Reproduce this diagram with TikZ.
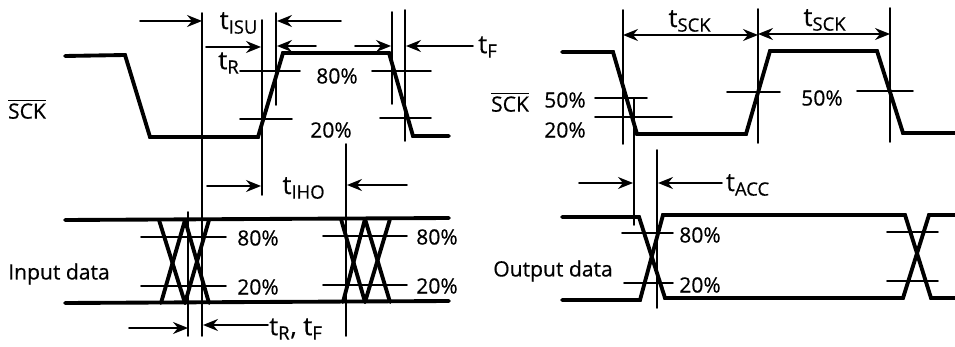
\documentclass[tikz,border=0pt]{standalone}
\usepackage{amsmath}
\usepackage{xcolor}
\usepackage{fontspec}
\setmainfont[FakeBold=0.5]{Open Sans}
\usepackage{tikz}
\usepackage{tkz-euclide}
\usetikzlibrary{arrows.meta}
\tikzset{wave/.style={line width=2.2pt,color=black,line join=miter},guide/.style={line width=1pt,color=black},
  level/.style={line width=1pt,color=black},
  toward/.style={line width=1pt,color=black,-{Stealth[length=3mm,width=2.4mm,inset=1mm]}},
  both way/.style={line width=1pt,color=black,{Stealth[length=3mm,width=2.4mm,inset=1mm]}-{Stealth[length=3mm,width=2.4mm,inset=1mm]}},
  small label/.style={font=\fontsize{12}{14}\selectfont,inner sep=0pt},time label/.style={font=\fontsize{14.5}{16}\selectfont,inner sep=0pt}}
\newcommand{\tsub}[1]{t\textsubscript{\fontsize{10.5}{11}\selectfont #1}}
\newcommand{\sckbar}{$\overline{\text{SCK}}$}

\begin{document}
\begin{tikzpicture}[x=0.02cm,y=-0.02cm]
	\useasboundingbox (0,0) rectangle (955,347);
	% input side
	\tkzDefPoints{65/56/A1,125/55/A2,150/137/A3,258/137/A4,283/53/A5,389/53/A6,413/136/A7,449/136/A8}
	\tkzDefPoints{202/13/G1,202/336/G2,262/20/G3,262/195/G4,276/13/G5,276/105/G6,392/12/G7,392/104/G8,405/10/G9,405/141/G10,346/144/G11,346/336/G12,188/212/G13,188/336/G14}
	\tkzDefPoints{140/21/P1,202/21/P2,341/21/P3,277/21/P4,206/47/P5,261/47/P6,316/46/P7,277/46/P8,355/46/P9,391/46/P10,473/46/P11,406/46/P12}
	\tkzDefPoints{207/186/P13,261/186/P14,407/185/P15,347/185/P16,129/328/P17,188/328/P18,268/325/P19,203/325/P20}
	\tkzDefPoints{240/71/L1,300/71/L2,240/119/L3,292/119/L4,372/71/L5,431/71/L6,380/118/L7,431/118/L8}
	\tkzDefPoints{141/237/L9,226/237/L10,141/286/L11,226/286/L12,323/236/L13,407/236/L14,323/285/L15,407/285/L16}
	\tkzDefPoints{65/220/D1,449/218/D2,65/303/D3,449/301/D4}
	\tkzDefPoints{159/220/X1,185/303/X2,161/303/X3,185/220/X4,185/303/X5,209/220/X6,185/220/X7,209/303/X8}
	\tkzDefPoints{341/219/X9,365/302/X10,343/302/X11,365/219/X12,365/302/X13,390/219/X14,365/219/X15,390/302/X16}
	% output side
	\tkzDefPoints{562/52/B1,613/52/B2,637/134/B3,746/134/B4,770/51/B5,877/51/B6,903/133/B7,955/133/B8}
	\tkzDefPoints{623/10/H1,623/144/H2,758/9/H3,758/143/H4,890/8/H5,890/142/H6,634/98/H7,634/225/H8,657/150/H9,657/308/H10}
	\tkzDefPoints{623/35/Q1,758/35/Q2,758/34/Q3,890/34/Q4,579/183/Q5,633/183/Q6,722/183/Q7,658/183/Q8}
	\tkzDefPoints{595/98/M1,647/98/M2,595/117/M3,672/117/M4,727/92/M5,780/92/M6,857/91/M7,913/91/M8}
	\tkzDefPoints{622/233/M9,673/233/M10,624/283/M11,673/283/M12,887/232/M13,938/232/M14,887/281/M15,938/281/M16}
	\tkzDefPoints{562/217/E1,639/217/E2,665/298/E3,903/298/E4,929/215/E5,955/215/E6}
	\tkzDefPoints{562/300/E7,640/300/E8,663/215/E9,905/215/E10,931/298/E11,955/298/E12}

	\tkzDrawPolySeg[wave](A1,A2,A3,A4,A5,A6,A7,A8)
	\tkzDrawSegments[wave](D1,D2 D3,D4)
	\tkzDrawSegments[wave](X1,X2 X3,X4 X5,X6 X7,X8 X9,X10 X11,X12 X13,X14 X15,X16)
	\tkzDrawSegments[guide](G1,G2 G3,G4 G5,G6 G7,G8 G9,G10 G11,G12 G13,G14)
	\tkzDrawSegments[level](L1,L2 L3,L4 L5,L6 L7,L8 L9,L10 L11,L12 L13,L14 L15,L16)
	\tkzDrawSegments[toward](P1,P2 P3,P4 P5,P6 P7,P8 P9,P10 P11,P12 P13,P14 P15,P16 P17,P18 P19,P20)

	\tkzDrawPolySeg[wave](B1,B2,B3,B4,B5,B6,B7,B8)
	\tkzDrawPolySeg[wave](E1,E2,E3,E4,E5,E6)
	\tkzDrawPolySeg[wave](E7,E8,E9,E10,E11,E12)
	\tkzDrawSegments[guide](H1,H2 H3,H4 H5,H6 H7,H8 H9,H10)
	\tkzDrawSegments[level](M1,M2 M3,M4 M5,M6 M7,M8 M9,M10 M11,M12 M13,M14 M15,M16)
	\tkzDrawSegments[both way](Q1,Q2 Q3,Q4)
	\tkzDrawSegments[toward](Q5,Q6 Q7,Q8)

	\node[time label] (isu) at (239,23) {\tsub{ISU}};
	\node[time label] (risetime) at (229,63) {\tsub{R}};
	\node[time label] (falltime) at (488,47) {\tsub{F}};
	\node[time label] (iho) at (304,188) {\tsub{IHO}};
	\node[time label] (rf) at (296,329) {\tsub{R}, \tsub{F}};
	\node[time label] (sckone) at (690,21) {\tsub{SCK}};
	\node[time label] (scktwo) at (825,20) {\tsub{SCK}};
	\node[time label] (acc) at (748,185) {\tsub{ACC}};
	\node[small label] (sckin) at (27,109) {\sckbar};
	\node[small label] (sckout) at (510,102) {\sckbar};
	\node[small label] (datain) at (59,274) {Input data};
	\node[small label] (dataout) at (553,271) {Output data};
	\node[small label] (high) at (337,76) {80\%};
	\node[small label] (low) at (331,130) {20\%};
	\node[small label] (highin) at (258,238) {80\%};
	\node[small label] (lowin) at (258,287) {20\%};
	\node[small label] (highend) at (437,237) {80\%};
	\node[small label] (lowend) at (437,286) {20\%};
	\node[small label] (midone) at (565,100) {50\%};
	\node[small label] (lowout) at (565,130) {20\%};
	\node[small label] (midtwo) at (822,98) {50\%};
	\node[small label] (highout) at (700,235) {80\%};
	\node[small label] (lowdata) at (700,285) {20\%};
\end{tikzpicture}
\end{document}
